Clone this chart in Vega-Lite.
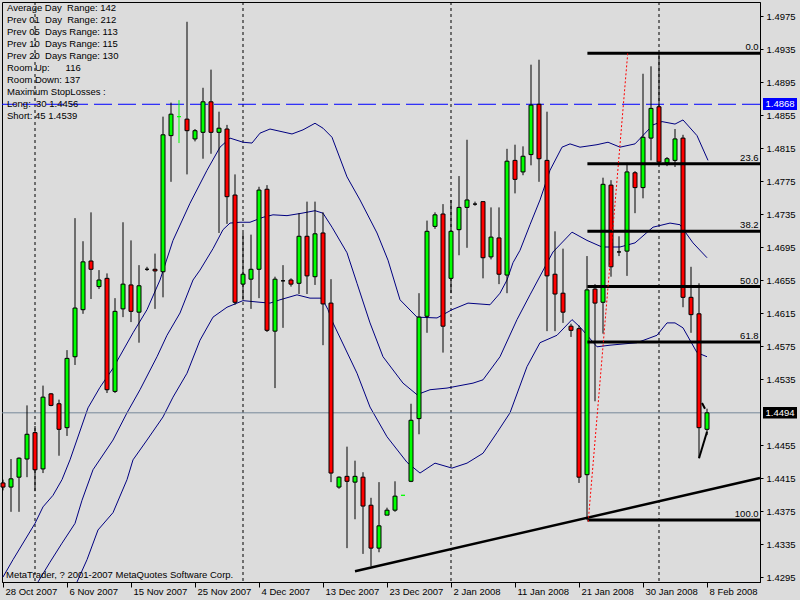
{
"$schema":"https://vega.github.io/schema/vega-lite/v6.json",
"width":758,"height":580,
"autosize":{"type":"none"},
"padding":{"left":2,"top":2,"right":40,"bottom":18},
"background":"#dcdcdc",
"config":{"view":{"stroke":"#000000","strokeWidth":1,"fill":"#dcdcdc"},
"scale":{"continuousPadding":0},
"axis":{"domainColor":"#000000","tickColor":"#000000","labelColor":"#000000","labelFont":"Liberation Sans","labelFontSize":9.5,"grid":false,"title":null},
"text":{"font":"Liberation Sans","fontSize":9.5}},
"resolve":{"axis":{"x":"independent","y":"independent"}},
"datasets":{
"candles":[
{"i":0,"o":1.4409,"h":1.4413,"l":1.4400,"c":1.4404},
{"i":1,"o":1.4404,"h":1.4438,"l":1.4374,"c":1.4414},
{"i":2,"o":1.4416,"h":1.4440,"l":1.4374,"c":1.4439},
{"i":3,"o":1.4438,"h":1.4503,"l":1.4416,"c":1.4468},
{"i":4,"o":1.4470,"h":1.4478,"l":1.4399,"c":1.4425},
{"i":5,"o":1.4426,"h":1.4527,"l":1.4421,"c":1.4513},
{"i":6,"o":1.4517,"h":1.4518,"l":1.4502,"c":1.4503},
{"i":7,"o":1.4505,"h":1.4510,"l":1.4442,"c":1.4474},
{"i":8,"o":1.4476,"h":1.4570,"l":1.4466,"c":1.4560},
{"i":9,"o":1.4562,"h":1.4730,"l":1.4552,"c":1.4621},
{"i":10,"o":1.4619,"h":1.4702,"l":1.4614,"c":1.4677},
{"i":11,"o":1.4678,"h":1.4737,"l":1.4632,"c":1.4668},
{"i":12,"o":1.4647,"h":1.4667,"l":1.4644,"c":1.4655},
{"i":13,"o":1.4657,"h":1.4663,"l":1.4518,"c":1.4522},
{"i":14,"o":1.4520,"h":1.4633,"l":1.4518,"c":1.4617},
{"i":15,"o":1.4620,"h":1.4725,"l":1.4610,"c":1.4650},
{"i":16,"o":1.4649,"h":1.4703,"l":1.4604,"c":1.4617},
{"i":17,"o":1.4616,"h":1.4673,"l":1.4579,"c":1.4648},
{"i":18,"o":1.4668,"h":1.4671,"l":1.4666,"c":1.4668},
{"i":19,"o":1.4668,"h":1.4687,"l":1.4620,"c":1.4666},
{"i":20,"o":1.4665,"h":1.4853,"l":1.4634,"c":1.4831},
{"i":21,"o":1.4830,"h":1.4870,"l":1.4774,"c":1.4856},
{"i":22,"o":1.4853,"h":1.4873,"l":1.4821,"c":1.4853,"hol":true},
{"i":23,"o":1.4850,"h":1.4968,"l":1.4783,"c":1.4836},
{"i":24,"o":1.4826,"h":1.4838,"l":1.4823,"c":1.4836},
{"i":25,"o":1.4834,"h":1.4888,"l":1.4802,"c":1.4871},
{"i":26,"o":1.4871,"h":1.4910,"l":1.4808,"c":1.4834},
{"i":27,"o":1.4834,"h":1.4859,"l":1.4712,"c":1.4839},
{"i":28,"o":1.4838,"h":1.4843,"l":1.4723,"c":1.4756},
{"i":29,"o":1.4758,"h":1.4783,"l":1.4625,"c":1.4628},
{"i":30,"o":1.4650,"h":1.4712,"l":1.4631,"c":1.4662},
{"i":31,"o":1.4656,"h":1.4710,"l":1.4620,"c":1.4668},
{"i":32,"o":1.4668,"h":1.4768,"l":1.4633,"c":1.4764},
{"i":33,"o":1.4765,"h":1.4770,"l":1.4592,"c":1.4594},
{"i":34,"o":1.4593,"h":1.4659,"l":1.4524,"c":1.4656},
{"i":35,"o":1.4654,"h":1.4673,"l":1.4597,"c":1.4654},
{"i":36,"o":1.4655,"h":1.4657,"l":1.4647,"c":1.4650},
{"i":37,"o":1.4651,"h":1.4736,"l":1.4638,"c":1.4708},
{"i":38,"o":1.4708,"h":1.4750,"l":1.4638,"c":1.4660},
{"i":39,"o":1.4659,"h":1.4750,"l":1.4649,"c":1.4711},
{"i":40,"o":1.4712,"h":1.4737,"l":1.4576,"c":1.4626},
{"i":41,"o":1.4627,"h":1.4656,"l":1.4410,"c":1.4421},
{"i":42,"o":1.4404,"h":1.4417,"l":1.4402,"c":1.4416},
{"i":43,"o":1.4417,"h":1.4453,"l":1.4330,"c":1.4411},
{"i":44,"o":1.4410,"h":1.4436,"l":1.4365,"c":1.4417},
{"i":45,"o":1.4416,"h":1.4422,"l":1.4323,"c":1.4381},
{"i":46,"o":1.4382,"h":1.4391,"l":1.4308,"c":1.4330},
{"i":47,"o":1.4330,"h":1.4410,"l":1.4325,"c":1.4357},
{"i":48,"o":1.4370,"h":1.4379,"l":1.4370,"c":1.4376},
{"i":49,"o":1.4376,"h":1.4411,"l":1.4374,"c":1.4393},
{"i":50,"o":1.4394,"h":1.4394,"l":1.4394,"c":1.4394,"hol":true},
{"i":51,"o":1.4411,"h":1.4505,"l":1.4410,"c":1.4485},
{"i":52,"o":1.4487,"h":1.4639,"l":1.4468,"c":1.4610},
{"i":53,"o":1.4611,"h":1.4727,"l":1.4591,"c":1.4714},
{"i":54,"o":1.4720,"h":1.4737,"l":1.4717,"c":1.4734},
{"i":55,"o":1.4735,"h":1.4747,"l":1.4567,"c":1.4599},
{"i":56,"o":1.4657,"h":1.4752,"l":1.4639,"c":1.4714},
{"i":57,"o":1.4716,"h":1.4781,"l":1.4685,"c":1.4743},
{"i":58,"o":1.4743,"h":1.4825,"l":1.4694,"c":1.4752},
{"i":59,"o":1.4747,"h":1.4750,"l":1.4745,"c":1.4747},
{"i":60,"o":1.4750,"h":1.4750,"l":1.4657,"c":1.4682},
{"i":61,"o":1.4683,"h":1.4743,"l":1.4680,"c":1.4707},
{"i":62,"o":1.4706,"h":1.4743,"l":1.4650,"c":1.4662},
{"i":63,"o":1.4661,"h":1.4814,"l":1.4639,"c":1.4799},
{"i":64,"o":1.4800,"h":1.4819,"l":1.4760,"c":1.4777},
{"i":65,"o":1.4786,"h":1.4817,"l":1.4782,"c":1.4805},
{"i":66,"o":1.4807,"h":1.4916,"l":1.4794,"c":1.4867},
{"i":67,"o":1.4868,"h":1.4922,"l":1.4774,"c":1.4802},
{"i":68,"o":1.4800,"h":1.4859,"l":1.4593,"c":1.4660},
{"i":69,"o":1.4662,"h":1.4714,"l":1.4593,"c":1.4638},
{"i":70,"o":1.4639,"h":1.4693,"l":1.4603,"c":1.4616},
{"i":71,"o":1.4599,"h":1.4602,"l":1.4586,"c":1.4594},
{"i":72,"o":1.4596,"h":1.4600,"l":1.4409,"c":1.4416},
{"i":73,"o":1.4419,"h":1.4684,"l":1.4364,"c":1.4643},
{"i":74,"o":1.4644,"h":1.4650,"l":1.4508,"c":1.4627},
{"i":75,"o":1.4628,"h":1.4779,"l":1.4590,"c":1.4771},
{"i":76,"o":1.4770,"h":1.4776,"l":1.4659,"c":1.4671},
{"i":77,"o":1.4689,"h":1.4708,"l":1.4684,"c":1.4689},
{"i":78,"o":1.4690,"h":1.4797,"l":1.4660,"c":1.4786},
{"i":79,"o":1.4785,"h":1.4787,"l":1.4736,"c":1.4767},
{"i":80,"o":1.4767,"h":1.4905,"l":1.4754,"c":1.4828},
{"i":81,"o":1.4827,"h":1.4914,"l":1.4800,"c":1.4863},
{"i":82,"o":1.4865,"h":1.4930,"l":1.4794,"c":1.4798},
{"i":83,"o":1.4797,"h":1.4804,"l":1.4793,"c":1.4802},
{"i":84,"o":1.4800,"h":1.4838,"l":1.4792,"c":1.4826},
{"i":85,"o":1.4827,"h":1.4831,"l":1.4622,"c":1.4634},
{"i":86,"o":1.4634,"h":1.4671,"l":1.4591,"c":1.4613},
{"i":87,"o":1.4614,"h":1.4651,"l":1.4439,"c":1.4476},
{"i":88,"o":1.4474,"h":1.4499,"l":1.4467,"c":1.4494}
],
"bands":[
{"b":"U","i":0,"p":1.4295},{"b":"U","i":1.25,"p":1.4316},{"b":"U","i":4,"p":1.4360},{"b":"U","i":5,"p":1.4380},{"b":"U","i":6.25,"p":1.4394},{"b":"U","i":7.375,"p":1.4413},{"b":"U","i":8.375,"p":1.4437},{"b":"U","i":10.625,"p":1.4500},{"b":"U","i":12.125,"p":1.4525},{"b":"U","i":13.75,"p":1.4548},{"b":"U","i":16.25,"p":1.4591},{"b":"U","i":18,"p":1.4619},{"b":"U","i":19.625,"p":1.4655},{"b":"U","i":21.25,"p":1.4703},{"b":"U","i":23.375,"p":1.4748},{"b":"U","i":25.5,"p":1.4788},{"b":"U","i":27.125,"p":1.4816},{"b":"U","i":28.375,"p":1.4827},{"b":"U","i":30,"p":1.4822},{"b":"U","i":31.125,"p":1.4821},{"b":"U","i":32.125,"p":1.4833},{"b":"U","i":33.375,"p":1.4838},{"b":"U","i":36.125,"p":1.4832},{"b":"U","i":37.5,"p":1.4837},{"b":"U","i":39,"p":1.4845},{"b":"U","i":40,"p":1.4839},{"b":"U","i":41.125,"p":1.4828},{"b":"U","i":43,"p":1.4780},{"b":"U","i":44.625,"p":1.4752},{"b":"U","i":46.75,"p":1.4712},{"b":"U","i":48.125,"p":1.4679},{"b":"U","i":49.625,"p":1.4631},{"b":"U","i":51.75,"p":1.4610},{"b":"U","i":54.25,"p":1.4609},{"b":"U","i":56.125,"p":1.4619},{"b":"U","i":58.125,"p":1.4627},{"b":"U","i":60.875,"p":1.4625},{"b":"U","i":62.125,"p":1.4639},{"b":"U","i":63,"p":1.4655},{"b":"U","i":63.75,"p":1.4676},{"b":"U","i":64.625,"p":1.4691},{"b":"U","i":65.875,"p":1.4722},{"b":"U","i":67.125,"p":1.4752},{"b":"U","i":68.375,"p":1.4788},{"b":"U","i":69.875,"p":1.4816},{"b":"U","i":70.875,"p":1.4820},{"b":"U","i":72.125,"p":1.4816},{"b":"U","i":74.25,"p":1.4819},{"b":"U","i":75.625,"p":1.4822},{"b":"U","i":77.125,"p":1.4816},{"b":"U","i":79,"p":1.4820},{"b":"U","i":81.25,"p":1.4843},{"b":"U","i":82.375,"p":1.4847},{"b":"U","i":84,"p":1.4844},{"b":"U","i":85,"p":1.4849},{"b":"U","i":86.75,"p":1.4830},{"b":"U","i":88.125,"p":1.4800},
{"b":"M","i":4.375,"p":1.4289},{"b":"M","i":5.875,"p":1.4313},{"b":"M","i":7.375,"p":1.4336},{"b":"M","i":9,"p":1.4360},{"b":"M","i":9.875,"p":1.4388},{"b":"M","i":11.25,"p":1.4425},{"b":"M","i":13.75,"p":1.4461},{"b":"M","i":15.5,"p":1.4494},{"b":"M","i":17.125,"p":1.4522},{"b":"M","i":19.25,"p":1.4562},{"b":"M","i":20.5,"p":1.4588},{"b":"M","i":22.125,"p":1.4615},{"b":"M","i":23.75,"p":1.4655},{"b":"M","i":24.625,"p":1.4667},{"b":"M","i":26.25,"p":1.4693},{"b":"M","i":27.5,"p":1.4716},{"b":"M","i":28.375,"p":1.4724},{"b":"M","i":29.625,"p":1.4725},{"b":"M","i":30.875,"p":1.4725},{"b":"M","i":32.5,"p":1.4731},{"b":"M","i":33.75,"p":1.4734},{"b":"M","i":35.5,"p":1.4733},{"b":"M","i":37.375,"p":1.4736},{"b":"M","i":39,"p":1.4739},{"b":"M","i":40,"p":1.4736},{"b":"M","i":41.125,"p":1.4719},{"b":"M","i":43,"p":1.4688},{"b":"M","i":44.25,"p":1.4651},{"b":"M","i":45.875,"p":1.4603},{"b":"M","i":47.5,"p":1.4562},{"b":"M","i":50,"p":1.4530},{"b":"M","i":51.75,"p":1.4516},{"b":"M","i":53.375,"p":1.4522},{"b":"M","i":55.5,"p":1.4524},{"b":"M","i":58.75,"p":1.4530},{"b":"M","i":60,"p":1.4534},{"b":"M","i":62.125,"p":1.4562},{"b":"M","i":64.25,"p":1.4607},{"b":"M","i":65.875,"p":1.4637},{"b":"M","i":68.75,"p":1.4689},{"b":"M","i":71.125,"p":1.4713},{"b":"M","i":73,"p":1.4703},{"b":"M","i":74.875,"p":1.4695},{"b":"M","i":77.125,"p":1.4695},{"b":"M","i":79,"p":1.4700},{"b":"M","i":81.25,"p":1.4719},{"b":"M","i":83.375,"p":1.4724},{"b":"M","i":84.625,"p":1.4722},{"b":"M","i":86.25,"p":1.4700},{"b":"M","i":88,"p":1.4682},
{"b":"L","i":9.25,"p":1.4289},{"b":"L","i":10.5,"p":1.4316},{"b":"L","i":11.875,"p":1.4352},{"b":"L","i":13.75,"p":1.4373},{"b":"L","i":15.5,"p":1.4413},{"b":"L","i":16.25,"p":1.4437},{"b":"L","i":18,"p":1.4461},{"b":"L","i":20,"p":1.4489},{"b":"L","i":21.25,"p":1.4513},{"b":"L","i":23,"p":1.4542},{"b":"L","i":24.625,"p":1.4582},{"b":"L","i":26.25,"p":1.4610},{"b":"L","i":28,"p":1.4622},{"b":"L","i":30,"p":1.4630},{"b":"L","i":32.125,"p":1.4628},{"b":"L","i":33.375,"p":1.4627},{"b":"L","i":34.625,"p":1.4631},{"b":"L","i":36.75,"p":1.4637},{"b":"L","i":38.375,"p":1.4633},{"b":"L","i":39.875,"p":1.4633},{"b":"L","i":40.625,"p":1.4619},{"b":"L","i":41.25,"p":1.4603},{"b":"L","i":44.25,"p":1.4542},{"b":"L","i":45.875,"p":1.4501},{"b":"L","i":48,"p":1.4465},{"b":"L","i":50.5,"p":1.4434},{"b":"L","i":52.125,"p":1.4421},{"b":"L","i":54,"p":1.4433},{"b":"L","i":56.125,"p":1.4427},{"b":"L","i":58,"p":1.4433},{"b":"L","i":60,"p":1.4445},{"b":"L","i":61.75,"p":1.4470},{"b":"L","i":63.375,"p":1.4494},{"b":"L","i":65.5,"p":1.4550},{"b":"L","i":67.125,"p":1.4579},{"b":"L","i":69.25,"p":1.4588},{"b":"L","i":71.125,"p":1.4607},{"b":"L","i":72.125,"p":1.4598},{"b":"L","i":74.25,"p":1.4574},{"b":"L","i":75.875,"p":1.4576},{"b":"L","i":79.25,"p":1.4579},{"b":"L","i":81.75,"p":1.4588},{"b":"L","i":83,"p":1.4603},{"b":"L","i":84,"p":1.4603},{"b":"L","i":85,"p":1.4597},{"b":"L","i":86.75,"p":1.4567},{"b":"L","i":88,"p":1.4562}
],
"seps":[{"i":4,"m":"Nov 2007"},{"i":30,"m":"Dec 2007"},{"i":56,"m":"Jan 2008"},{"i":82,"m":"Feb 2008"}],
"trend":[{"i":44,"p":1.4302},{"i":94.625,"p":1.4415}],
"fib":[{"lvl":"0.0","p":1.4930},{"lvl":"23.6","p":1.4796},{"lvl":"38.2","p":1.4714},{"lvl":"50.0","p":1.4647},{"lvl":"61.8","p":1.4580},{"lvl":"100.0","p":1.4364}],
"fibline":[{"i":73.15,"p":1.4362},{"i":78.1,"p":1.4931}],
"zz":[{"s":1,"i":87,"p":1.4439},{"s":1,"i":88,"p":1.4471},{"s":2,"i":87.375,"p":1.4506},{"s":2,"i":87.75,"p":1.4499}],
"levels":[{"kind":"alert","p":1.4868,"lo":1.4861,"hi":1.48755,"t":"1.4868"},{"kind":"bid","p":1.4494,"lo":1.4487,"hi":1.4501,"t":"1.4494"}],
"notes":[{"note":"Average Day\u00a0\u00a0Range: 142\nPrev 01\u00a0\u00a0Day\u00a0\u00a0Range: 212\nPrev 05\u00a0\u00a0Days Range: 113\nPrev 10\u00a0\u00a0Days Range: 115\nPrev 20\u00a0\u00a0Days Range: 130\nRoom Up:\u00a0\u00a0\u00a0\u00a0\u00a0\u00a0116\nRoom Down: 137\nMaximum StopLosses :\nLong:\u00a0\u00a030 1.4456\nShort: 45 1.4539","i":0.5,"p":1.49908}],
"copy":[{"t":"MetaTrader, ? 2001-2007 MetaQuotes Software Corp.","i":0.375,"p":1.42974}]
},
"layer":[
{"data":{"name":"seps"},"mark":{"type":"rule","color":"#000000","strokeWidth":1,"strokeDash":[3,3]},
 "encoding":{"x":{"field":"i","type":"quantitative","scale":{"domain":[-0.125,94.625],"nice":false,"zero":false,"padding":0},
 "axis":{"values":[0,8,16,24,32,40,48,56,64,72,80,88],"labelExpr":"['28 Oct 2007','6 Nov 2007','15 Nov 2007','25 Nov 2007','4 Dec 2007','13 Dec 2007','23 Dec 2007','2 Jan 2008','11 Jan 2008','21 Jan 2008','30 Jan 2008','8 Feb 2008'][round(datum.value/8)]","tickSize":5,"labelAlign":"left","labelBaseline":"top","labelPadding":-1,"labelOffset":2,"labelFlush":false,"labelOverlap":false,"labelBound":false,"title":null}}}},
{"data":{"name":"bands"},"mark":{"type":"line","color":"#000080","strokeWidth":1,"clip":true},
 "encoding":{"x":{"field":"i","type":"quantitative","scale":{"domain":[-0.125,94.625],"nice":false,"zero":false,"padding":0},"axis":null},
 "y":{"field":"p","type":"quantitative","scale":{"domain":[1.428894,1.499197],"nice":false,"zero":false,"padding":0},
 "axis":{"orient":"right","values":[1.4295,1.4335,1.4375,1.4415,1.4455,1.4535,1.4575,1.4615,1.4655,1.4695,1.4735,1.4775,1.4815,1.4855,1.4895,1.4935,1.4975],"format":".4f","tickSize":3,"labelPadding":3,"labelBaseline":"middle","title":null}},
 "detail":{"field":"b"}}},
{"data":{"name":"levels"},"mark":{"type":"rule","strokeWidth":1},
 "encoding":{"y":{"field":"p","type":"quantitative","scale":{"domain":[1.428894,1.499197],"nice":false,"zero":false,"padding":0},"axis":null},
 "color":{"condition":{"test":"datum.kind == 'alert'","value":"#0000ff"},"value":"#778899"},
 "strokeDash":{"condition":{"test":"datum.kind == 'alert'","value":[18,6]},"value":[1,0]}}},
{"data":{"name":"candles"},"mark":{"type":"rule","strokeWidth":1},
 "encoding":{"x":{"field":"i","type":"quantitative","scale":{"domain":[-0.125,94.625],"nice":false,"zero":false,"padding":0},"axis":null},
 "y":{"field":"h","type":"quantitative","scale":{"domain":[1.428894,1.499197],"nice":false,"zero":false,"padding":0},"axis":null},
 "y2":{"field":"l"},
 "color":{"condition":{"test":"datum.hol","value":"#00ff00"},"value":"#000000"}}},
{"data":{"name":"candles"},"mark":{"type":"bar","size":4,"strokeWidth":1},
 "encoding":{"x":{"field":"i","type":"quantitative","scale":{"domain":[-0.125,94.625],"nice":false,"zero":false,"padding":0},"axis":null},
 "y":{"field":"o","type":"quantitative","scale":{"domain":[1.428894,1.499197],"nice":false,"zero":false,"padding":0},"axis":null},
 "y2":{"field":"c"},
 "fill":{"condition":[{"test":"datum.hol","value":"#00ff00"},{"test":"datum.c > datum.o","value":"#00ff00"}],"value":"#ff0000"},
 "stroke":{"condition":{"test":"datum.hol","value":"#00ff00"},"value":"#000000"}}},
{"data":{"name":"trend"},"mark":{"type":"line","color":"#000000","strokeWidth":2.5},
 "encoding":{"x":{"field":"i","type":"quantitative","scale":{"domain":[-0.125,94.625],"nice":false,"zero":false,"padding":0},"axis":null},
 "y":{"field":"p","type":"quantitative","scale":{"domain":[1.428894,1.499197],"nice":false,"zero":false,"padding":0},"axis":null}}},
{"data":{"name":"fib"},"mark":{"type":"rule","color":"#000000","strokeWidth":3},
 "encoding":{"x":{"datum":73.05,"type":"quantitative","scale":{"domain":[-0.125,94.625],"nice":false,"zero":false,"padding":0},"axis":null},
 "x2":{"datum":94.625},
 "y":{"field":"p","type":"quantitative","scale":{"domain":[1.428894,1.499197],"nice":false,"zero":false,"padding":0},"axis":null}}},
{"data":{"name":"fib"},"mark":{"type":"text","align":"right","baseline":"bottom","dy":-1,"color":"#000000","fontSize":9.5},
 "encoding":{"x":{"datum":94.45,"type":"quantitative","scale":{"domain":[-0.125,94.625],"nice":false,"zero":false,"padding":0},"axis":null},
 "y":{"field":"p","type":"quantitative","scale":{"domain":[1.428894,1.499197],"nice":false,"zero":false,"padding":0},"axis":null},
 "text":{"field":"lvl"}}},
{"data":{"name":"fibline"},"mark":{"type":"line","color":"#ff0000","strokeWidth":1,"strokeDash":[2,2]},
 "encoding":{"x":{"field":"i","type":"quantitative","scale":{"domain":[-0.125,94.625],"nice":false,"zero":false,"padding":0},"axis":null},
 "y":{"field":"p","type":"quantitative","scale":{"domain":[1.428894,1.499197],"nice":false,"zero":false,"padding":0},"axis":null}}},
{"data":{"name":"zz"},"mark":{"type":"line","color":"#000000","strokeWidth":2},
 "encoding":{"x":{"field":"i","type":"quantitative","scale":{"domain":[-0.125,94.625],"nice":false,"zero":false,"padding":0},"axis":null},
 "y":{"field":"p","type":"quantitative","scale":{"domain":[1.428894,1.499197],"nice":false,"zero":false,"padding":0},"axis":null},
 "detail":{"field":"s"}}},
{"data":{"name":"levels"},"mark":{"type":"bar","size":34},
 "encoding":{"x":{"datum":97.125,"type":"quantitative","scale":{"domain":[-0.125,94.625],"nice":false,"zero":false,"padding":0},"axis":null},
 "y":{"field":"lo","type":"quantitative","scale":{"domain":[1.428894,1.499197],"nice":false,"zero":false,"padding":0},"axis":null},
 "y2":{"field":"hi"},
 "color":{"condition":{"test":"datum.kind == 'alert'","value":"#0000ff"},"value":"#000000"}}},
{"data":{"name":"levels"},"mark":{"type":"text","align":"center","baseline":"middle","color":"#ffffff","fontSize":9.5},
 "encoding":{"x":{"datum":97.125,"type":"quantitative","scale":{"domain":[-0.125,94.625],"nice":false,"zero":false,"padding":0},"axis":null},
 "y":{"field":"p","type":"quantitative","scale":{"domain":[1.428894,1.499197],"nice":false,"zero":false,"padding":0},"axis":null},
 "text":{"field":"t"}}},
{"data":{"name":"notes"},"mark":{"type":"text","align":"left","baseline":"top","lineBreak":"\n","lineHeight":12,"color":"#000000","fontSize":9.5},
 "encoding":{"x":{"field":"i","type":"quantitative","scale":{"domain":[-0.125,94.625],"nice":false,"zero":false,"padding":0},"axis":null},
 "y":{"field":"p","type":"quantitative","scale":{"domain":[1.428894,1.499197],"nice":false,"zero":false,"padding":0},"axis":null},
 "text":{"field":"note"}}},
{"data":{"name":"copy"},"mark":{"type":"text","align":"left","baseline":"middle","color":"#000000","fontSize":9.5},
 "encoding":{"x":{"field":"i","type":"quantitative","scale":{"domain":[-0.125,94.625],"nice":false,"zero":false,"padding":0},"axis":null},
 "y":{"field":"p","type":"quantitative","scale":{"domain":[1.428894,1.499197],"nice":false,"zero":false,"padding":0},"axis":null},
 "text":{"field":"t"}}}
]
}
